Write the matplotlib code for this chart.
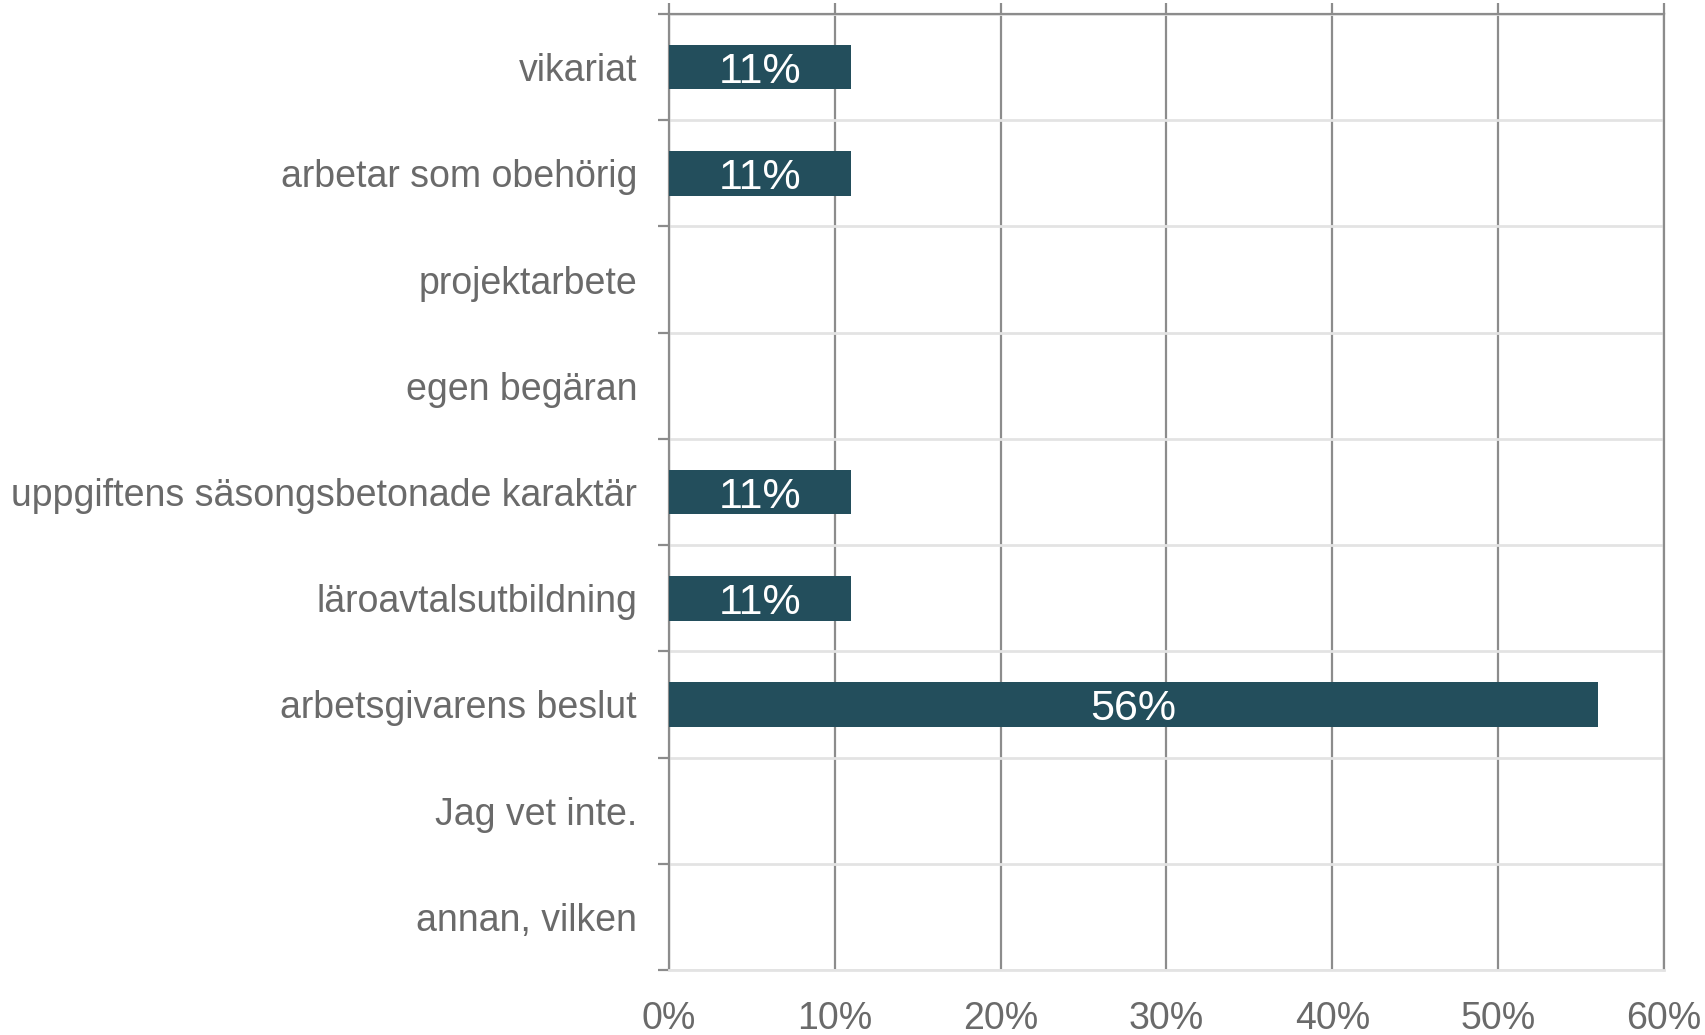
import matplotlib
matplotlib.use("Agg")
import matplotlib.pyplot as plt
import numpy as np

categories = ["vikariat", "arbetar som obehörig", "projektarbete", "egen begäran",
              "uppgiftens säsongsbetonade karaktär", "läroavtalsutbildning",
              "arbetsgivarens beslut", "Jag vet inte.", "annan, vilken"]
values = [0.11, 0.11, 0.0, 0.0, 0.11, 0.11, 0.56, 0.0, 0.0]
labels = ["11%", "11%", "", "", "11%", "11%", "56%", "", ""]
xticks = [0, 0.1, 0.2, 0.3, 0.4, 0.5, 0.6]
xticklabels = ["0%", "10%", "20%", "30%", "40%", "50%", "60%"]

plt.rcParams['font.family'] = ['Liberation Sans', 'DejaVu Sans']
dpi = 100
fig = plt.figure(figsize=(17.06, 10.35), dpi=dpi)
ax = fig.add_axes([669/1706, 1-970/1035, (1664-669)/1706, (970-14)/1035])

text_col = "#6a6a6a"
bar_col = "#234e5c"
grid_col = "#8c8c8c"
light = "#e3e3e3"

y = np.arange(len(categories))
ax.barh(y, values, height=0.42, color=bar_col, zorder=3)
for yi, v, lab in zip(y, values, labels):
    if lab:
        ax.text(v/2, yi, lab, ha="center", va="center_baseline", color="white", fontsize=31, zorder=4)

ax.set_xlim(0, 0.6)
ax.set_ylim(len(categories)-0.5, -0.5)
ax.set_xticks(xticks)
ax.set_xticklabels(xticklabels)
ax.set_yticks(y)
ax.set_yticklabels(categories)
ax.set_yticks(np.arange(len(categories)+1)-0.5, minor=True)

ax.xaxis.grid(True, color=grid_col, linewidth=1.6, zorder=1)
ax.yaxis.grid(True, which="minor", color=light, linewidth=2, zorder=0)
ax.set_axisbelow(True)

ax.tick_params(axis="x", bottom=False, top=True, labelbottom=True, labeltop=False,
               length=8, width=1.6, color=grid_col, labelsize=27, labelcolor=text_col, pad=14)
ax.tick_params(axis="y", which="major", length=0, labelsize=27, labelcolor=text_col, pad=23)
ax.tick_params(axis="y", which="minor", left=True, length=8, width=1.6, color=grid_col)

for s in ["left", "top", "right"]:
    ax.spines[s].set_color(grid_col)
    ax.spines[s].set_linewidth(1.6)
ax.spines["bottom"].set_color(light)
ax.spines["bottom"].set_linewidth(2)

fig.savefig("out.png", dpi=dpi)
